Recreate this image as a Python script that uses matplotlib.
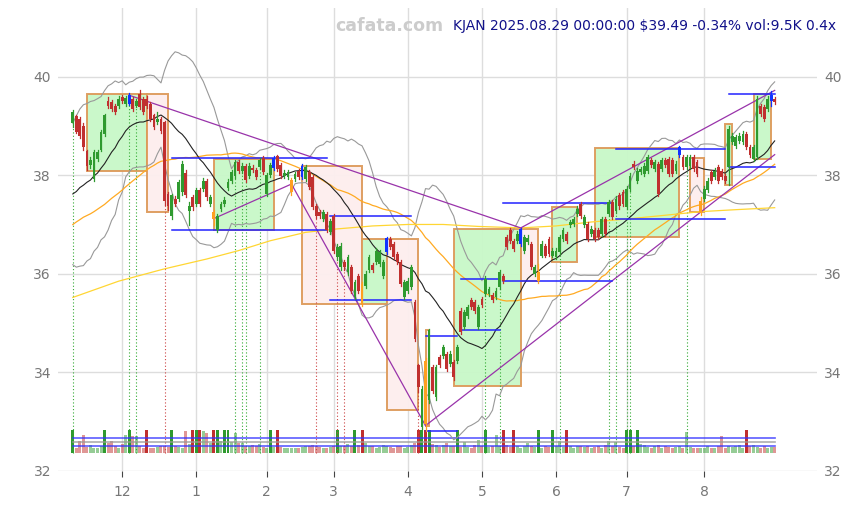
import numpy as np
import pandas as pd
import matplotlib
matplotlib.use("Agg")
import matplotlib.pyplot as plt
from matplotlib.patches import Rectangle

# ---------------- data ----------------
holidays = ["2024-11-28", "2024-12-25", "2025-01-01", "2025-01-09", "2025-01-20",
            "2025-02-17", "2025-04-18", "2025-05-26", "2025-06-19", "2025-07-04"]
dates = pd.bdate_range("2024-11-11", "2025-08-29", freq="C", holidays=holidays)

opens = [39.06, 39.19, 39.14, 39.00, 38.48, 38.20, 37.92, 38.32, 38.52, 38.84,
         39.51, 39.48, 39.41, 39.40, 39.58, 39.45, 39.45, 39.55, 39.41, 39.65,
         39.55, 39.55, 39.45, 39.21, 39.07, 39.14, 39.07, 37.62, 37.18, 37.52,
         37.52, 37.65, 38.05, 37.28, 37.55, 37.42, 37.69, 37.72, 37.89, 37.42,
         37.25, 36.88, 37.31, 37.42, 37.74, 37.89, 37.99, 38.26, 38.09, 38.19,
         37.99, 38.15, 38.10, 38.16, 38.35, 37.62, 38.00, 38.14, 38.38, 38.20,
         37.99, 37.96, 37.65, 37.92, 38.09, 37.97, 37.92, 38.06, 37.96, 37.38,
         37.25, 37.11, 37.21, 36.84, 37.18, 36.33, 36.13, 36.23, 36.03, 36.13,
         35.52, 35.96, 35.79, 35.76, 36.07, 36.17, 36.23, 36.20, 35.96, 36.44,
         36.71, 36.61, 36.40, 36.23, 35.52, 35.66, 35.73, 35.42, 34.14, 32.89,
         34.24, 33.43, 34.10, 33.50, 34.31, 34.34, 34.38, 34.17, 34.21, 34.24,
         35.25, 34.92, 35.15, 35.46, 35.42, 34.92, 35.49, 35.59, 35.59, 35.56,
         35.52, 35.73, 35.96, 36.74, 36.88, 36.67, 36.67, 36.61, 36.47, 36.64,
         36.61, 36.00, 35.86, 36.37, 36.57, 36.71, 36.37, 36.34, 36.44, 36.71,
         36.81, 36.98, 37.01, 37.21, 37.42, 36.98, 37.01, 36.81, 36.88, 36.88,
         36.81, 37.11, 37.21, 37.45, 37.28, 37.59, 37.65, 37.35, 37.72, 38.23,
         37.89, 38.06, 38.03, 38.09, 38.30, 38.13, 38.23, 38.13, 38.30, 38.33,
         38.30, 38.09, 38.40, 38.36, 38.16, 38.19, 38.36, 38.26, 37.24, 37.52,
         37.69, 38.06, 37.96, 38.16, 38.09, 37.99, 38.16, 38.67, 38.60, 38.70,
         38.67, 38.84, 38.57, 38.33, 38.36, 39.41, 39.38, 39.34, 39.51, 39.55]

closes = [39.28, 38.88, 38.80, 38.57, 38.18, 38.30, 38.47, 38.47, 38.87, 39.21,
          39.41, 39.34, 39.29, 39.55, 39.51, 39.56, 39.63, 39.34, 39.51, 39.38,
          39.29, 39.41, 39.14, 38.97, 39.14, 38.90, 37.48, 37.38, 37.59, 37.42,
          37.86, 38.23, 37.59, 37.38, 37.35, 37.69, 37.42, 37.89, 37.55, 37.55,
          37.11, 37.18, 37.42, 37.50, 37.87, 38.06, 38.26, 38.09, 38.19, 37.90,
          38.19, 38.10, 37.97, 38.30, 38.06, 38.00, 38.20, 38.35, 38.13, 37.99,
          38.05, 38.06, 37.90, 38.02, 37.96, 38.19, 38.16, 37.76, 37.35, 37.18,
          37.18, 37.25, 36.88, 37.08, 36.47, 36.54, 36.57, 36.13, 36.33, 35.66,
          35.83, 35.66, 35.39, 36.00, 36.33, 36.07, 36.47, 36.44, 36.23, 36.73,
          36.54, 36.33, 36.23, 35.80, 35.83, 35.86, 36.13, 34.68, 33.70, 33.66,
          32.95, 34.85, 33.63, 34.10, 34.14, 34.51, 34.07, 34.38, 33.90, 34.51,
          34.81, 35.22, 35.32, 35.32, 35.25, 35.32, 35.36, 35.90, 35.69, 35.46,
          35.66, 36.03, 35.86, 36.54, 36.67, 36.50, 36.81, 36.91, 36.74, 36.73,
          36.13, 36.13, 36.03, 36.61, 36.37, 36.40, 36.47, 36.47, 36.74, 36.88,
          36.67, 37.05, 37.11, 37.32, 37.18, 37.15, 36.71, 36.91, 36.71, 36.74,
          37.11, 36.81, 37.45, 37.15, 37.52, 37.38, 37.42, 37.72, 37.99, 38.16,
          38.09, 38.12, 38.19, 38.36, 38.20, 38.26, 37.62, 38.30, 38.20, 38.03,
          38.03, 38.23, 38.57, 38.16, 38.36, 38.36, 38.13, 38.03, 37.48, 37.72,
          37.89, 37.89, 38.09, 37.89, 37.96, 37.89, 38.94, 38.80, 38.77, 38.80,
          38.84, 38.57, 38.40, 38.57, 39.55, 39.24, 39.14, 39.55, 39.62, 39.49]

highs = [39.32, 39.22, 39.18, 39.05, 38.52, 38.36, 38.50, 38.52, 38.92, 39.25,
         39.58, 39.52, 39.45, 39.60, 39.62, 39.60, 39.66, 39.58, 39.55, 39.72,
         39.58, 39.60, 39.48, 39.25, 39.28, 39.18, 39.10, 37.66, 37.62, 37.58,
         37.90, 38.28, 38.10, 37.45, 37.60, 37.74, 37.73, 37.94, 37.93, 37.60,
         37.30, 37.22, 37.46, 37.55, 37.92, 38.10, 38.30, 38.30, 38.24, 38.23,
         38.24, 38.20, 38.14, 38.34, 38.39, 38.05, 38.24, 38.38, 38.40, 38.24,
         38.10, 38.10, 37.94, 38.06, 38.13, 38.22, 38.20, 38.10, 38.00, 37.42,
         37.30, 37.30, 37.25, 37.12, 37.22, 36.60, 36.62, 36.28, 36.38, 36.17,
         35.88, 36.00, 35.83, 36.05, 36.38, 36.22, 36.52, 36.49, 36.28, 36.75,
         36.75, 36.65, 36.45, 36.27, 35.88, 35.91, 36.17, 35.46, 34.18, 33.72,
         34.30, 34.88, 34.14, 34.15, 34.36, 34.56, 34.42, 34.43, 34.25, 34.56,
         35.30, 35.27, 35.37, 35.50, 35.46, 35.36, 35.53, 35.95, 35.74, 35.60,
         35.71, 36.08, 36.00, 36.78, 36.92, 36.71, 36.86, 36.93, 36.79, 36.78,
         36.65, 36.18, 36.20, 36.66, 36.61, 36.75, 36.52, 36.52, 36.79, 36.93,
         36.85, 37.10, 37.16, 37.37, 37.46, 37.20, 37.05, 36.96, 36.92, 36.92,
         37.16, 37.15, 37.50, 37.49, 37.57, 37.63, 37.69, 37.77, 38.04, 38.28,
         38.14, 38.17, 38.24, 38.41, 38.34, 38.31, 38.27, 38.35, 38.34, 38.37,
         38.34, 38.28, 38.60, 38.40, 38.41, 38.41, 38.40, 38.30, 37.55, 37.77,
         37.94, 38.10, 38.14, 38.20, 38.13, 38.03, 39.00, 38.85, 38.82, 38.85,
         38.89, 38.88, 38.61, 38.61, 39.60, 39.45, 39.42, 39.60, 39.70, 39.59]

lows = [38.98, 38.85, 38.75, 38.52, 38.10, 38.14, 37.88, 38.28, 38.48, 38.80,
        39.36, 39.30, 39.24, 39.36, 39.46, 39.40, 39.42, 39.30, 39.38, 39.34,
        39.25, 39.37, 39.10, 38.93, 39.03, 38.86, 37.40, 37.30, 37.12, 37.38,
        37.48, 37.60, 37.55, 36.98, 37.30, 37.38, 37.37, 37.68, 37.50, 37.38,
        36.98, 36.84, 37.27, 37.38, 37.70, 37.85, 37.95, 38.05, 38.05, 37.86,
        37.95, 38.06, 37.93, 38.12, 38.02, 37.58, 37.96, 38.10, 38.09, 37.95,
        37.95, 37.92, 37.60, 37.88, 37.92, 37.93, 37.88, 37.72, 37.31, 37.14,
        37.14, 37.07, 36.84, 36.80, 36.42, 36.28, 36.08, 36.08, 35.98, 35.62,
        35.48, 35.62, 35.35, 35.72, 36.03, 36.03, 36.19, 36.16, 35.92, 36.40,
        36.50, 36.29, 36.19, 35.76, 35.48, 35.62, 35.69, 34.63, 33.60, 32.85,
        32.82, 33.38, 33.58, 33.45, 34.10, 34.30, 34.03, 34.13, 33.85, 34.20,
        34.77, 34.88, 35.11, 35.28, 35.21, 34.88, 35.32, 35.55, 35.55, 35.42,
        35.48, 35.69, 35.82, 36.50, 36.63, 36.46, 36.63, 36.57, 36.43, 36.60,
        36.09, 35.96, 35.82, 36.33, 36.33, 36.36, 36.33, 36.30, 36.40, 36.67,
        36.63, 36.94, 36.97, 37.17, 37.14, 36.94, 36.67, 36.77, 36.67, 36.70,
        36.77, 36.77, 37.17, 37.11, 37.24, 37.31, 37.38, 37.31, 37.68, 38.12,
        37.85, 38.02, 37.99, 38.05, 38.16, 38.09, 37.58, 38.09, 38.16, 37.99,
        37.99, 38.05, 38.36, 38.12, 38.12, 38.15, 38.09, 37.99, 37.20, 37.48,
        37.65, 37.85, 37.92, 37.85, 37.92, 37.85, 37.80, 38.63, 38.56, 38.66,
        38.63, 38.53, 38.36, 38.29, 38.32, 39.20, 39.10, 39.30, 39.41, 39.45]

# relative volume (multiple of average volume)
vol_rel = [1.8, 0.30, 0.85, 1.25, 0.40, 0.55, 0.30, 0.30, 0.45, 1.8,
           0.65, 0.80, 0.45, 0.30, 0.60, 1.25, 1.8, 1.15, 1.15, 0.50,
           0.35, 1.8, 0.35, 0.30, 0.40, 0.45, 0.50, 0.40, 1.8, 0.45,
           0.40, 0.30, 1.50, 0.60, 1.8, 1.8, 1.8, 1.50, 1.40, 0.70,
           1.8, 1.8, 0.80, 1.8, 1.8, 0.75, 1.35, 0.70, 0.70, 0.50,
           0.45, 0.55, 0.50, 0.60, 0.40, 0.35, 1.8, 0.40, 1.8, 0.40,
           0.30, 0.30, 0.35, 0.35, 0.30, 0.40, 0.45, 0.50, 0.55, 0.50,
           0.40, 0.35, 0.30, 0.40, 0.45, 1.8, 0.50, 0.50, 0.60, 0.45,
           1.8, 0.55, 1.8, 0.70, 0.50, 0.45, 0.35, 0.40, 0.55, 0.45,
           0.40, 0.35, 0.45, 0.50, 0.35, 0.40, 0.55, 0.70, 1.8, 1.8,
           1.8, 1.8, 0.60, 0.55, 0.40, 0.55, 0.70, 0.45, 0.50, 1.8,
           0.40, 0.75, 0.40, 0.35, 0.55, 0.90, 0.45, 1.8, 0.40, 0.45,
           1.20, 0.50, 1.8, 0.55, 0.40, 1.8, 0.45, 0.35, 0.50, 0.70,
           0.45, 0.40, 1.8, 0.35, 0.45, 0.40, 1.8, 0.50, 0.85, 0.40,
           1.8, 0.45, 0.35, 0.50, 0.45, 0.40, 0.50, 0.35, 0.40, 0.45,
           0.35, 0.55, 0.85, 0.45, 0.75, 0.40, 0.35, 1.8, 1.8, 0.45,
           1.8, 0.60, 0.55, 0.40, 0.30, 0.45, 0.55, 0.35, 0.45, 0.40,
           0.30, 0.40, 0.45, 0.35, 1.45, 0.40, 0.30, 0.35, 0.30, 0.35,
           0.45, 0.30, 0.35, 0.50, 1.15, 0.35, 0.50, 0.40, 0.45, 0.55,
           0.35, 1.8, 0.45, 0.55, 0.40, 0.30, 0.45, 0.30, 0.40, 0.40]
vol_levels = [1.0, 0.76, 0.5]
vol_level_colors = ["#3333ff", "#999999", "#3333ff"]

# closes before the first visible bar (only feed the moving averages)
pre_closes = [36.2, 36.5, 36.1, 36.4, 36.6, 36.3, 36.0, 36.5, 36.7, 36.4,
              36.2, 36.6, 36.8, 36.5, 36.3, 36.6, 36.4, 36.7, 36.5, 36.3,
              36.75, 36.7, 37.0, 36.8, 37.1, 36.9, 36.6, 37.0, 37.15, 36.9,
              37.9, 37.2, 37.6, 37.0, 37.4, 36.8, 37.3, 36.9, 37.4, 37.05,
              37.0, 37.5, 36.9, 37.6, 37.25, 38.1, 38.4, 38.8, 39.0]

# long moving average
slow_ma_bars = [0, 13, 26, 38, 47, 56, 66, 75, 85, 95, 105, 115, 127, 137, 147, 157, 167, 178, 188, 199]
slow_ma_vals = [35.52, 35.85, 36.10, 36.30, 36.47, 36.67, 36.84, 36.91, 36.97, 37.00,
                37.00, 36.96, 36.93, 36.97, 37.05, 37.11, 37.18, 37.26, 37.30, 37.34]

pivot_high = [16, 57, 65, 89, 127, 172, 198]
pivot_low = [40, 62, 82, 100, 132, 178]

box_start = [4, 21, 40, 65, 82, 89, 100, 108, 127, 136, 148, 175, 185, 193]
box_end = [21, 27, 57, 82, 89, 98, 101, 127, 132, 143, 172, 179, 187, 198]
box_low = [38.09, 37.26, 36.89, 35.38, 35.38, 33.24, 32.92, 33.73, 35.86, 36.23, 36.74, 37.26, 37.80, 38.32]
box_high = [39.65, 39.65, 38.33, 38.19, 36.71, 36.71, 34.86, 36.91, 36.91, 37.36, 38.55, 38.35, 39.04, 39.65]
box_up = [1, 0, 1, 0, 1, 0, 0, 1, 0, 1, 1, 0, 1, 1]

seg_start = [28, 73, 100, 110, 122, 154, 186]
seg_end = [72, 96, 109, 121, 153, 185, 199]
seg_top = [38.35, 37.17, 34.73, 35.89, 37.44, 38.53, 39.65]
seg_bot = [36.88, 35.47, 32.82, 34.85, 35.86, 37.11, 38.17]

tl_x0 = [16, 40, 62, 100, 127]
tl_y0 = [39.62, 37.12, 37.82, 32.92, 36.93]
tl_x1 = [127, 62, 100, 178, 198]
tl_y1 = [36.93, 37.82, 32.92, 37.25, 39.68]
tl_to = [127, 62, 100, 199, 199]

dot_up = [0, 16, 18, 46, 48, 49, 53, 117, 121, 138, 152, 154, 157, 158, 174]
dot_dn = [26, 69, 75, 77, 98]

title_txt = "KJAN 2025.08.29 00:00:00 \\$39.49 -0.34% vol:9.5K 0.4x"

# ---------------- derived ----------------
o = np.array(opens); c = np.array(closes); h = np.array(highs); l = np.array(lows)
n = len(c)
x = np.arange(n)
allc = pd.Series(pre_closes + closes)
npre = len(pre_closes)
sma20 = allc.rolling(20).mean().values[npre:]
sd20 = allc.rolling(20).std(ddof=0).values[npre:]
sma50 = allc.rolling(50).mean().values[npre:]

GREEN = "#2f9a2f"
RED = "#c0302f"

fig = plt.figure(figsize=(8.49, 5.05), dpi=100)
ax = fig.add_axes([58 / 849, 34 / 505, 759 / 849, 463 / 505])
ax.set_xlim(-4.2, 211.0)
ax.set_ylim(32.0, 41.39)
for s in ax.spines.values():
    s.set_visible(False)

# grid
month_idx = [i for i in range(1, n) if dates[i].month != dates[i - 1].month]
ax.set_xticks(month_idx)
ax.set_xticklabels([str(dates[i].month) for i in month_idx])
ax.set_yticks([32, 34, 36, 38, 40])
ax.grid(True, color="#dddddd", linewidth=1.0, zorder=0)
ax.set_axisbelow(True)
ax.tick_params(axis="y", length=0, labelleft=True, labelright=True, labelsize=10,
               colors="#777777", pad=5)
ax.tick_params(axis="x", length=4, color="#444444", labelsize=10, labelcolor="#777777", pad=6)

# boxes
for s0, s1, lo, hi, upb in zip(box_start, box_end, box_low, box_high, box_up):
    fc = "#c8f8c8" if upb else "#fdeeee"
    ax.add_patch(Rectangle((s0, lo), s1 - s0, hi - lo, facecolor=fc, edgecolor="#dd9a5a",
                           linewidth=1.4, alpha=0.95, zorder=1))

# volume
vbase = 32.37
vunit = 0.292
vcap = 1.55
up = c >= o
vh = np.minimum(np.array(vol_rel), vcap) * vunit
strong = np.array(vol_rel) >= vcap
for mask, a in [(~strong, 0.5), (strong, 1.0)]:
    ax.bar(x[mask & up], vh[mask & up], bottom=vbase, width=0.85, color=GREEN, alpha=a,
           linewidth=0, zorder=2)
    ax.bar(x[mask & ~up], vh[mask & ~up], bottom=vbase, width=0.85, color=RED, alpha=a,
           linewidth=0, zorder=2)
for lv, col in zip(vol_levels, vol_level_colors):
    ax.plot([0, n - 1], [vbase + lv * vunit] * 2, color=col, linewidth=1.2, alpha=0.8, zorder=2.5)

# dotted verticals
for i in dot_up:
    ax.plot([i, i], [vbase, l[i]], color="#33aa33", linestyle=(0, (1, 2)), linewidth=0.8, zorder=2.2)
for i in dot_dn:
    ax.plot([i, i], [vbase, l[i]], color="#cc4444", linestyle=(0, (1, 2)), linewidth=0.8, zorder=2.2)

# indicators
ax.plot(x, sma20 + 2 * sd20, color="#999999", linewidth=0.8, zorder=3)
ax.plot(x, sma20 - 2 * sd20, color="#999999", linewidth=0.8, zorder=3)
ax.plot(x, sma50, color="#ffaa22", linewidth=0.9, zorder=3)
ax.plot(slow_ma_bars, slow_ma_vals, color="#ffd633", linewidth=0.9, zorder=3)
ax.plot(x, sma20, color="#222222", linewidth=0.8, zorder=3.2)

# trend lines
for x0, y0, x1, y1, xt in zip(tl_x0, tl_y0, tl_x1, tl_y1, tl_to):
    yt = y0 + (y1 - y0) * (xt - x0) / (x1 - x0)
    ax.plot([x0, xt], [y0, yt], color="#9933aa", linewidth=0.9, zorder=3.3)

# pivot level segments
for s0, s1, t, b in zip(seg_start, seg_end, seg_top, seg_bot):
    ax.plot([s0, s1], [t, t], color="#2222ff", linewidth=1.1, zorder=3.4)
    ax.plot([s0, s1], [b, b], color="#2222ff", linewidth=1.1, zorder=3.4)

# candles
colors = np.where(up, GREEN, RED).astype(object)
for i in pivot_high:
    colors[i] = "#1133ff"
for i in pivot_low:
    colors[i] = "#ffa020"
for i in range(n):
    ax.plot([i, i], [l[i], h[i]], color=colors[i], linewidth=0.9, zorder=4)
body_lo = np.minimum(o, c)
body_h = np.maximum(np.abs(c - o), 0.025)
ax.bar(x, body_h, bottom=body_lo, width=0.8, color=list(colors), linewidth=0, zorder=4.1)

# texts
fig.text(836 / 849, 1 - 26 / 505, title_txt, ha="right", va="center", fontsize=10, color="#11118a")
fig.text(389 / 849, 1 - 26 / 505, "cafata.com", ha="center", va="center", fontsize=12.5,
         color="#cccccc", fontweight="bold")

fig.savefig("out.png", dpi=100)
